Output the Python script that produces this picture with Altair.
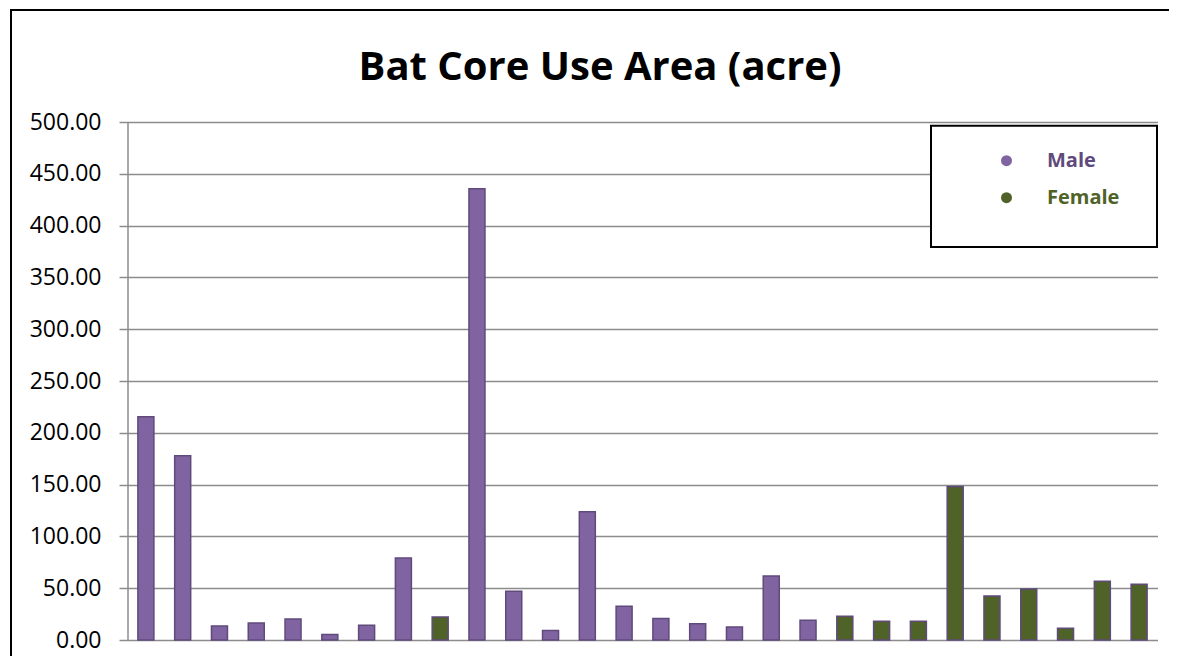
import altair as alt
import pandas as pd

# ---- data ----
bats = [f"Bat {i}" for i in range(1, 29)]
area = [215.5, 177.8, 13.5, 16.4, 20.3, 5.2, 14.2, 79.2, 22.2, 435.5,
        47.0, 9.1, 123.7, 32.6, 20.7, 15.8, 12.6, 61.8, 19.0, 22.9,
        18.0, 18.0, 148.2, 42.5, 49.3, 11.3, 56.7, 53.8]
sex = ["Male"] * 8 + ["Female"] + ["Male"] * 10 + ["Female"] * 9
groups = ["Male", "Female"]
group_colors = ["#8064A2", "#4F6228"]
y_ticks = [0, 50, 100, 150, 200, 250, 300, 350, 400, 450, 500]

df = pd.DataFrame({"bat": bats, "area": area, "sex": sex})

W, H = 1030, 518
FONT = "Open Sans"
GRID = "#8C8C8C"

bars = alt.Chart(df).mark_bar(stroke="#604A7B", strokeWidth=1.5).encode(
    x=alt.X("bat:N", sort=bats, axis=None,
            scale=alt.Scale(paddingInner=0.565, paddingOuter=0.2825)),
    y=alt.Y("area:Q", title=None,
            scale=alt.Scale(domain=[0, 500], nice=False),
            axis=alt.Axis(values=y_ticks, format=".2f", labelFont=FONT,
                          labelFontSize=23, labelColor="black",
                          labelPadding=18, domainColor=GRID, domainWidth=1.5,
                          tickColor=GRID, tickWidth=1.5, tickSize=8.5,
                          gridColor=GRID, gridWidth=1.5)),
    color=alt.Color("sex:N", title=None,
                    scale=alt.Scale(domain=groups, range=group_colors),
                    legend=alt.Legend(orient="none", legendX=869, legendY=28.7,
                                      symbolType="circle", symbolSize=121,
                                      symbolStrokeWidth=0, labelFont=FONT,
                                      labelFontSize=20, labelFontWeight="bold",
                                      labelColor={"expr": "datum.label == 'Male' ? '#604A7B' : '#4F6228'"},
                                      labelOffset=30.5, rowPadding=17, padding=0)),
)

frame = alt.Chart(pd.DataFrame({"k": [0]})).mark_rect(
    fill="transparent", stroke="black", strokeWidth=2
).encode(x=alt.value(-116.5), x2=alt.value(W + 200), y=alt.value(-112), y2=alt.value(H + 200))

legend_box = alt.Chart(pd.DataFrame({"k": [0]})).mark_rect(
    fill="white", stroke="black", strokeWidth=2
).encode(x=alt.value(803.5), x2=alt.value(1029.5), y=alt.value(3.7), y2=alt.value(125))

chart = alt.layer(frame, bars, legend_box).properties(
    width=W, height=H,
    title=alt.TitleParams("Bat Core Use Area (acre)", font=FONT, fontSize=40,
                          fontWeight="bold", color="black", anchor="middle",
                          baseline="alphabetic", dx=-42.5, offset=-111),
    autosize=alt.AutoSizeParams(type="none"),
    padding={"left": 119.5, "top": 114, "right": 11, "bottom": 16},
).configure_view(strokeWidth=0)

chart.save("out.html", embed_options={"renderer": "svg", "actions": False})
